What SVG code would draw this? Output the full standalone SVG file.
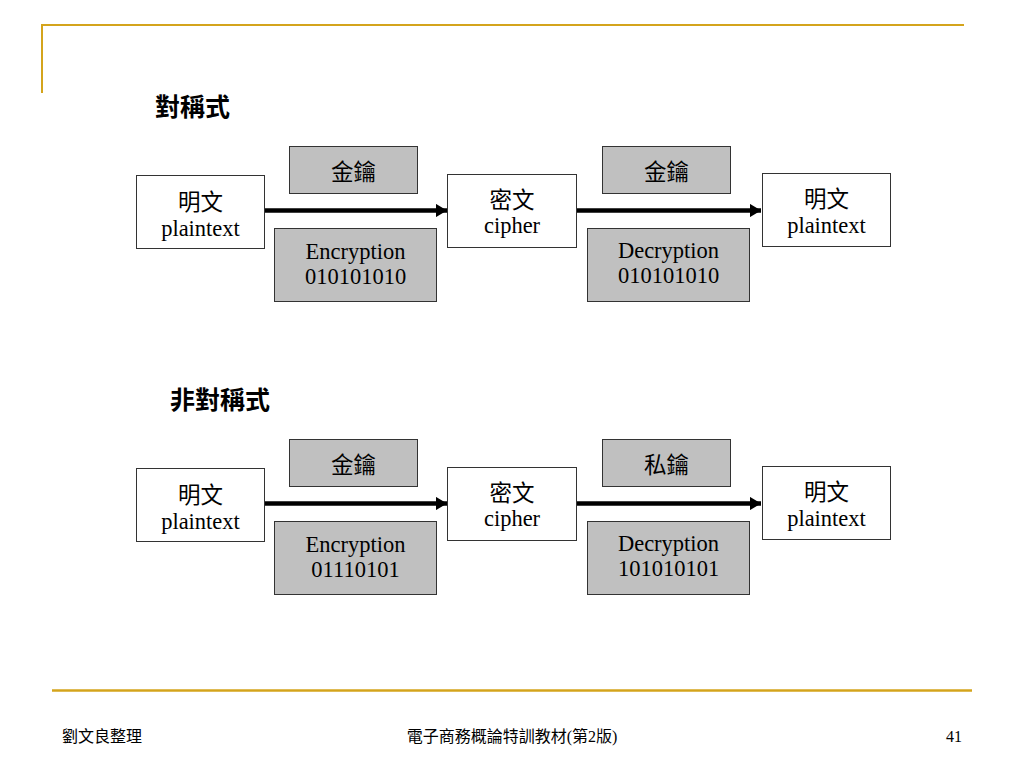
<svg xmlns="http://www.w3.org/2000/svg" width="1024" height="768" viewBox="0 0 1024 768">
<style>
.w{fill:#ffffff;stroke:#333333;stroke-width:1}
.g{fill:#c0c0c0;stroke:#333333;stroke-width:1}
.t{font-family:"Liberation Serif","Noto Sans CJK TC",serif;font-size:22.5px;fill:#000;text-anchor:middle}
.h{font-family:"Liberation Sans","Noto Sans CJK TC",sans-serif;font-size:25px;font-weight:bold;fill:#000}
.f{font-family:"Liberation Serif","Noto Sans CJK TC",serif;font-size:16px;fill:#000}
.c{stroke:#000;stroke-width:4.5;fill:none;marker-end:url(#ah)}
.o{stroke:#d4a41c;fill:none}
</style>
<defs>
<marker id="ah" markerWidth="2.5" markerHeight="3" refX="2.5" refY="1.5" orient="auto" markerUnits="strokeWidth" viewBox="0 0 2.5 3">
<path d="M0,0 L2.5,1.5 L0,3 z" fill="#000"/>
</marker>
</defs>
<rect width="1024" height="768" fill="#ffffff"/>
<g id="frame">
<path class="o" stroke-width="2" d="M42,25 H964 M42,24 V93"/>
<path class="o" stroke-width="2.5" d="M52,690.5 H972"/>
</g>
<g id="titles">
<text class="h" x="155" y="116">對稱式</text>
<text class="h" x="170" y="409">非對稱式</text>
</g>
<g id="connectors">
<line class="c" x1="265" y1="210.5" x2="447" y2="210.5"/>
<line class="c" x1="577" y1="210.5" x2="761" y2="210.5"/>
<line class="c" x1="265" y1="503.5" x2="447" y2="503.5"/>
<line class="c" x1="577" y1="503.5" x2="761" y2="503.5"/>
</g>
<g id="s-plain1">
<rect class="w" x="136.5" y="175.5" width="128" height="73"/>
<text class="t" x="200.5" y="210">明文</text>
<text class="t" x="200.5" y="236">plaintext</text>
</g>
<g id="s-key1">
<rect class="g" x="289.5" y="146.5" width="128" height="47"/>
<text class="t" x="353.5" y="180">金鑰</text>
</g>
<g id="s-enc">
<rect class="g" x="274.5" y="228.5" width="162" height="73"/>
<text class="t" x="355.5" y="259">Encryption</text>
<text class="t" x="355.5" y="284">010101010</text>
</g>
<g id="s-cipher">
<rect class="w" x="447.5" y="174.5" width="129" height="73"/>
<text class="t" x="512" y="208">密文</text>
<text class="t" x="512" y="233">cipher</text>
</g>
<g id="s-key2">
<rect class="g" x="602.5" y="146.5" width="128" height="47"/>
<text class="t" x="666.5" y="180">金鑰</text>
</g>
<g id="s-dec">
<rect class="g" x="587.5" y="228.5" width="162" height="73"/>
<text class="t" x="668.5" y="258">Decryption</text>
<text class="t" x="668.5" y="283">010101010</text>
</g>
<g id="s-plain2">
<rect class="w" x="762.5" y="173.5" width="128" height="73"/>
<text class="t" x="826.5" y="207">明文</text>
<text class="t" x="826.5" y="233">plaintext</text>
</g>
<g id="a-plain1">
<rect class="w" x="136.5" y="468.5" width="128" height="73"/>
<text class="t" x="200.5" y="503">明文</text>
<text class="t" x="200.5" y="529">plaintext</text>
</g>
<g id="a-key1">
<rect class="g" x="289.5" y="439.5" width="128" height="47"/>
<text class="t" x="353.5" y="473">金鑰</text>
</g>
<g id="a-enc">
<rect class="g" x="274.5" y="521.5" width="162" height="73"/>
<text class="t" x="355.5" y="552">Encryption</text>
<text class="t" x="355.5" y="577">01110101</text>
</g>
<g id="a-cipher">
<rect class="w" x="447.5" y="467.5" width="129" height="73"/>
<text class="t" x="512" y="501">密文</text>
<text class="t" x="512" y="526">cipher</text>
</g>
<g id="a-key2">
<rect class="g" x="602.5" y="439.5" width="128" height="47"/>
<text class="t" x="666.5" y="473">私鑰</text>
</g>
<g id="a-dec">
<rect class="g" x="587.5" y="521.5" width="162" height="73"/>
<text class="t" x="668.5" y="551">Decryption</text>
<text class="t" x="668.5" y="576">101010101</text>
</g>
<g id="a-plain2">
<rect class="w" x="762.5" y="466.5" width="128" height="73"/>
<text class="t" x="826.5" y="500">明文</text>
<text class="t" x="826.5" y="526">plaintext</text>
</g>
<g id="footer">
<text class="f" x="62" y="742">劉文良整理</text>
<text class="f" x="512" y="742" text-anchor="middle">電子商務概論特訓教材(第2版)</text>
<text class="f" x="962" y="742" text-anchor="end">41</text>
</g>
</svg>
